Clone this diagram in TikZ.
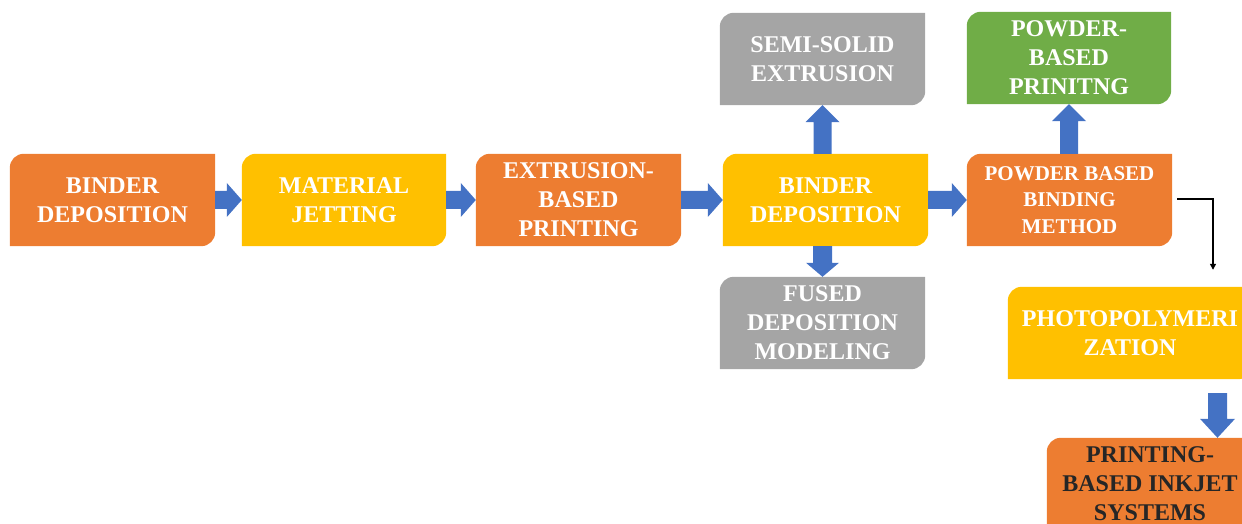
\documentclass[tikz,border=0pt]{standalone}
\usepackage{fontspec}
\setmainfont{Liberation Serif}
\usetikzlibrary{calc,arrows.meta,backgrounds}

\definecolor{boxorange}{HTML}{ED7D31}
\definecolor{boxyellow}{HTML}{FFC000}
\definecolor{boxgray}{HTML}{A5A5A5}
\definecolor{boxgreen}{HTML}{70AD47}
\definecolor{arrowblue}{HTML}{4472C4}
\definecolor{darktext}{HTML}{262626}

% box filled with rounded top-left and bottom-right corners
\newcommand\boxfill[2]{%
  \fill[#2] (#1.south west) -- ([yshift=-14pt]#1.north west)
    arc[start angle=180,end angle=90,radius=14pt] -- (#1.north east)
    -- ([yshift=14pt]#1.south east)
    arc[start angle=0,end angle=-90,radius=14pt] -- cycle;}

% block arrow pointing right, from #1.east to #2.west
\newcommand\blockright[2]{%
  \fill[arrowblue] let \p1=(#1.east), \p2=(#2.west) in
    (\x1,\y1+9pt) -- (\x2-15pt,\y1+9pt) -- (\x2-15pt,\y1+17pt) -- (\x2,\y1)
    -- (\x2-15pt,\y1-17pt) -- (\x2-15pt,\y1-9pt) -- (\x1,\y1-9pt) -- cycle;}

% block arrow pointing down, from point #1 to the height of point #2
\newcommand\blockdown[4]{%
  \fill[arrowblue] let \p1=(#1), \p2=(#2) in
    (\x1-9.5pt,\y1) -- (\x1-9.5pt,\y2+#3) -- (\x1-#4,\y2+#3) -- (\x1,\y2)
    -- (\x1+#4,\y2+#3) -- (\x1+9.5pt,\y2+#3) -- (\x1+9.5pt,\y1) -- cycle;}

% block arrow pointing up, from point #1 to the height of point #2
\newcommand\blockup[4]{%
  \fill[arrowblue] let \p1=(#1), \p2=(#2) in
    (\x1-9pt,\y1) -- (\x1-9pt,\y2-#3) -- (\x1-#4,\y2-#3) -- (\x1,\y2)
    -- (\x1+#4,\y2-#3) -- (\x1+9pt,\y2-#3) -- (\x1+9pt,\y1) -- cycle;}

\begin{document}
\begin{tikzpicture}[x=1pt,y=1pt,
  stage/.style={inner sep=0pt, minimum width=205pt, minimum height=92pt,
    align=center, text=white, font=\bfseries\fontsize{24}{29}\selectfont},
  smallstage/.style={stage, font=\bfseries\fontsize{21}{26.5}\selectfont}]
\useasboundingbox (0,0) rectangle (1242,524);
\clip (0,0) rectangle (1242,524);

% main row
\node[stage] (b1) at (112.5,324) {BINDER\\DEPOSITION};
\node[stage, minimum width=204pt] (b2) at (344,324) {MATERIAL\\JETTING};
\node[stage] (b3) at (578.5,324) {EXTRUSION-\\BASED\\PRINTING};
\node[stage] (b4) at (825.5,324) {BINDER\\DEPOSITION};
\node[smallstage] (b5) at (1069.5,324) {POWDER BASED\\BINDING\\METHOD};

% branches
\node[stage] (semi) at (822.5,465) {SEMI-SOLID\\EXTRUSION};
\node[stage, minimum width=204pt] (powder) at (1069,466) {POWDER-\\BASED\\PRINITNG};
\node[stage] (fused) at (822.5,201) {FUSED\\DEPOSITION\\MODELING};
\node[stage, minimum width=244pt] (photo) at (1130,191) {PHOTOPOLYMERI\\ZATION};
\node[stage, minimum width=206pt, text=darktext] (inkjet) at (1150,40) {PRINTING-\\BASED INKJET\\SYSTEMS};

\begin{pgfonlayer}{background}
  \boxfill{b1}{boxorange}
  \boxfill{b2}{boxyellow}
  \boxfill{b3}{boxorange}
  \boxfill{b4}{boxyellow}
  \boxfill{b5}{boxorange}
  \boxfill{semi}{boxgray}
  \boxfill{powder}{boxgreen}
  \boxfill{fused}{boxgray}
  \boxfill{photo}{boxyellow}
  \boxfill{inkjet}{boxorange}
\end{pgfonlayer}

% connectors
\blockright{b1}{b2}
\blockright{b2}{b3}
\blockright{b3}{b4}
\blockright{b4}{b5}
\blockup{b4.north -| semi.south}{semi.south}{17pt}{17pt}
\blockup{b5.north -| powder.south}{powder.south}{17pt}{17pt}
\blockdown{b4.south -| fused.north}{fused.north}{14pt}{16.5pt}
\blockdown{[xshift=87.5pt,yshift=-14pt]photo.south}{inkjet.north}{19pt}{17.5pt}

\coordinate (turn) at ([xshift=83pt,yshift=17pt]photo.north);
\draw[line width=1.3pt, -{Triangle[length=6pt,width=6pt]}]
  ([xshift=5pt,yshift=1pt]b5.east) -| (turn);
\end{tikzpicture}
\end{document}
